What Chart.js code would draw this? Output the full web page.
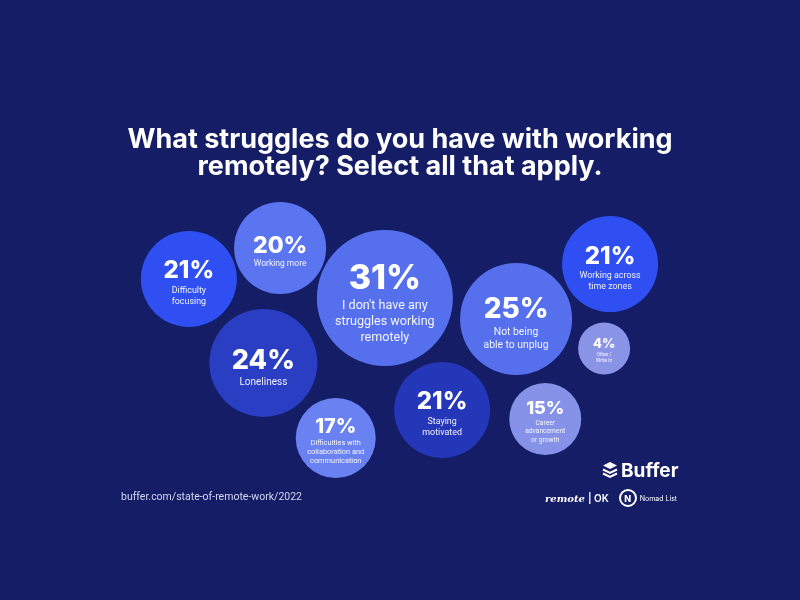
<!DOCTYPE html>
<html>
<head>
<meta charset="utf-8">
<script src="https://cdn.jsdelivr.net/npm/chart.js@4.4.1/dist/chart.umd.min.js"></script>
<style>
  html, body { margin: 0; padding: 0; background: #141d66; }
  #wrap { position: relative; width: 800px; height: 600px; overflow: hidden; }
  canvas { position: absolute; left: 0; top: 0; }
  .title {
    position: absolute; left: 0; top: 125px; width: 800px; text-align: center;
    font-family: Inter, "Open Sans", sans-serif; font-weight: 700; font-size: 27px;
    line-height: 27px; color: #ffffff;
  }
  .src {
    position: absolute; left: 121px; top: 490px;
    font-family: Roboto, sans-serif; font-size: 10.5px; color: #d3d7f0;
  }
  .buffer {
    position: absolute; left: 602px; top: 458px; height: 24px;
    font-family: Inter, sans-serif; font-weight: 700; font-size: 19px; color: #fff;
    display: flex; align-items: center; gap: 3px;
  }
  .partners {
    position: absolute; left: 545px; top: 489px; height: 18px;
    display: flex; align-items: center; color: #fff; font-family: Inter, sans-serif;
  }
  .remote { font-family: "DejaVu Serif", serif; font-style: italic; font-weight: 700; font-size: 10px; }
  .ok { font-size: 10px; font-weight: 600; margin-left: 3px; }
  .nomad { font-size: 7px; margin-left: 3px; }
  .circ { width: 14px; height: 14px; border-radius: 50%; border: 2px solid #fff; margin-left: 10px;
    display: flex; align-items: center; justify-content: center; color: #fff; font-size: 9px; font-weight: 800; }
</style>
</head>
<body>
<div id="wrap">
  <canvas id="chart" width="800" height="600"></canvas>
  <div class="title">What struggles do you have with working<br>remotely? Select all that apply.</div>
  <div class="src">buffer.com/state-of-remote-work/2022</div>
  <div class="buffer">
    <svg width="16" height="18" viewBox="0 0 16 18">
      <path d="M8 1 L15 4.5 L8 8 L1 4.5 Z" fill="#fff"/>
      <path d="M1 8.5 L8 12 L15 8.5" stroke="#fff" stroke-width="2" fill="none"/>
      <path d="M1 12.5 L8 16 L15 12.5" stroke="#fff" stroke-width="2" fill="none"/>
    </svg>
    <span>Buffer</span>
  </div>
  <div class="partners">
    <span class="remote">remote</span><span class="ok">| OK</span>
    <span class="circ">N</span><span class="nomad">Nomad List</span>
  </div>
</div>
<script>
// answers (percent of respondents)
const percents = [21, 20, 31, 24, 17, 21, 25, 21, 4, 15];
const labels = [
  ["Difficulty", "focusing"],
  ["Working more"],
  ["I don't have any", "struggles working", "remotely"],
  ["Loneliness"],
  ["Difficulties with", "collaboration and", "communication"],
  ["Staying", "motivated"],
  ["Not being", "able to unplug"],
  ["Working across", "time zones"],
  ["Other /", "Write In"],
  ["Career", "advancement", "or growth"]
];
// packed layout positions in a 0-100 grid
const posX = [10.9, 27.8, 47.2, 24.7, 38.1, 57.8, 71.5, 88.9, 87.8, 76.9];
const posY = [71.8, 82.9, 65.0, 41.8, 15.0, 25.0, 57.5, 77.1, 47.0, 21.8];
const colors = ["#2f4ff2", "#5b75f0", "#5670ed", "#2a3ec4", "#6a81f2",
                "#2537b9", "#5670ed", "#2f4ff2", "#8a94e7", "#8592e8"];

const bubbleSize = v => Math.max(26, 2 * v + 6);

const bubbleText = {
  id: "bubbleText",
  afterDatasetsDraw(chart) {
    const ctx = chart.ctx;
    const meta = chart.getDatasetMeta(0);
    meta.data.forEach((el, i) => {
      const r = el.options.radius;
      const P = r * 0.5;
      const L = r * 0.185;
      const capH = P * 0.73;
      const lh = r * 0.235;
      const first = capH + r * 0.25;
      const lines = labels[i];
      const total = first + (lines.length - 1) * lh + L * 0.35;
      const top = el.y + r * 0.08 - total / 2;
      ctx.save();
      ctx.fillStyle = "#ffffff";
      ctx.textAlign = "center";
      ctx.textBaseline = "alphabetic";
      ctx.font = "800 " + P + "px Inter, sans-serif";
      ctx.fillText(percents[i] + "%", el.x, top + capH);
      ctx.textBaseline = "middle";
      ctx.fillStyle = "rgba(255,255,255,0.92)";
      ctx.font = L + "px Roboto, sans-serif";
      lines.forEach((t, j) => {
        ctx.fillText(t, el.x, top + first + j * lh);
      });
      ctx.restore();
    });
  }
};

new Chart(document.getElementById("chart"), {
  type: "bubble",
  data: {
    datasets: [{
      data: percents.map((v, i) => ({ x: posX[i], y: posY[i], r: bubbleSize(v) })),
      backgroundColor: colors,
      borderWidth: 0
    }]
  },
  options: {
    responsive: false,
    animation: false,
    layout: { padding: { left: 130, right: 130, top: 200, bottom: 120 } },
    scales: {
      x: { display: false, min: 0, max: 100 },
      y: { display: false, min: 0, max: 100 }
    },
    plugins: {
      legend: { display: false },
      tooltip: { enabled: false }
    }
  },
  plugins: [bubbleText]
});
</script>
</body>
</html>
